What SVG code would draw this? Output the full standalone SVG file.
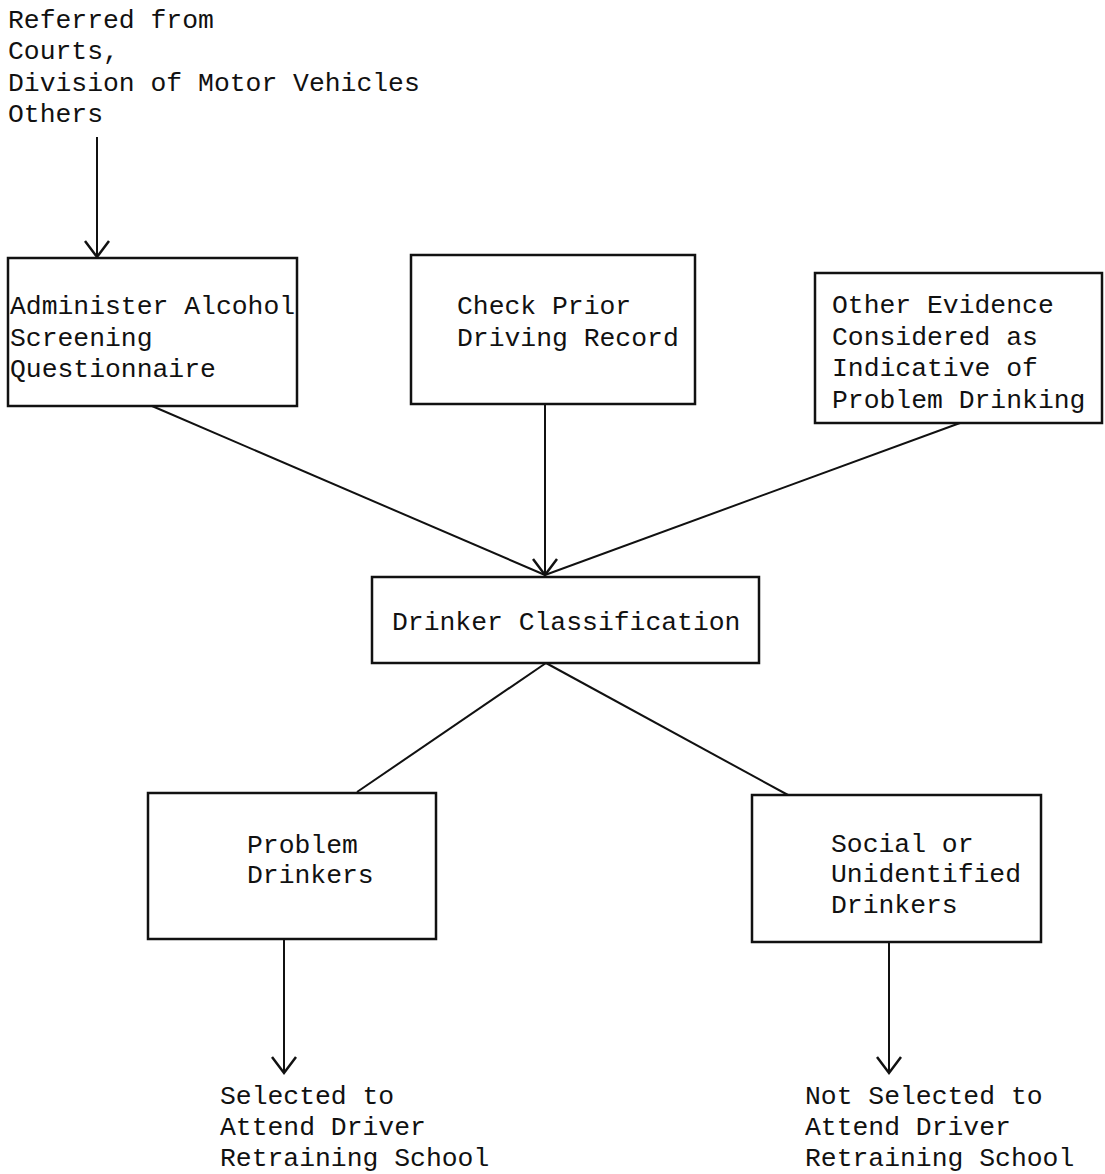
<svg xmlns="http://www.w3.org/2000/svg" width="1105" height="1174" viewBox="0 0 1105 1174">
<style>
text{font-family:"Liberation Mono","Courier New",monospace;font-size:26.4px;fill:#111}
.box{fill:none;stroke:#111;stroke-width:2.5}
.conn line{stroke:#111;stroke-width:2}
</style>
<defs>
<marker id="arr" markerUnits="userSpaceOnUse" markerWidth="40" markerHeight="40" refX="0" refY="0" orient="auto" viewBox="-20 -20 40 40" overflow="visible">
<path d="M-16,-12 L0,0 L-16,12" fill="none" stroke="#111" stroke-width="2.5"/>
</marker>
</defs>
<rect width="1105" height="1174" fill="#fff"/>
<g id="source">
<text x="8" y="28">Referred from</text>
<text x="8" y="59">Courts,</text>
<text x="8" y="91">Division of Motor Vehicles</text>
<text x="8" y="122">Others</text>
</g>
<g id="screening">
<rect class="box" x="8" y="258" width="289" height="148"/>
<text x="10" y="314">Administer Alcohol</text>
<text x="10" y="346">Screening</text>
<text x="10" y="377">Questionnaire</text>
</g>
<g id="record">
<rect class="box" x="411" y="255" width="284" height="149"/>
<text x="457" y="314">Check Prior</text>
<text x="457" y="346">Driving Record</text>
</g>
<g id="evidence">
<rect class="box" x="815" y="273" width="287" height="150"/>
<text x="832" y="313">Other Evidence</text>
<text x="832" y="345">Considered as</text>
<text x="832" y="376">Indicative of</text>
<text x="832" y="408">Problem Drinking</text>
</g>
<g id="classification">
<rect class="box" x="372" y="577" width="387" height="86"/>
<text x="392" y="630">Drinker Classification</text>
</g>
<g id="problem">
<rect class="box" x="148" y="793" width="288" height="146"/>
<text x="247" y="853">Problem</text>
<text x="247" y="883">Drinkers</text>
</g>
<g id="social">
<rect class="box" x="752" y="795" width="289" height="147"/>
<text x="831" y="852">Social or</text>
<text x="831" y="882">Unidentified</text>
<text x="831" y="913">Drinkers</text>
</g>
<g id="selected">
<text x="220" y="1104">Selected to</text>
<text x="220" y="1135">Attend Driver</text>
<text x="220" y="1166">Retraining School</text>
</g>
<g id="notselected">
<text x="805" y="1104">Not Selected to</text>
<text x="805" y="1135">Attend Driver</text>
<text x="805" y="1166">Retraining School</text>
</g>
<g id="connectors" class="conn">
<line x1="97" y1="137" x2="97" y2="257" marker-end="url(#arr)"/>
<line x1="152" y1="406" x2="545" y2="575"/>
<line x1="545" y1="404" x2="545" y2="575" marker-end="url(#arr)"/>
<line x1="960" y1="423" x2="545" y2="575"/>
<line x1="546" y1="663" x2="357" y2="792"/>
<line x1="546" y1="663" x2="788" y2="795"/>
<line x1="284" y1="939" x2="284" y2="1073" marker-end="url(#arr)"/>
<line x1="889" y1="942" x2="889" y2="1073" marker-end="url(#arr)"/>
</g>
</svg>
